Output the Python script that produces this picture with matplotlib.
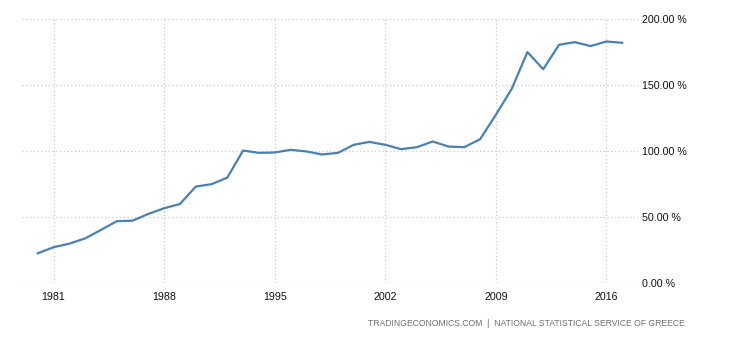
import matplotlib.pyplot as plt
from matplotlib.ticker import FuncFormatter

# Greece government debt to GDP (%)
years = list(range(1980, 2018))
debt = [22.7, 27.3, 30.0, 34.0, 40.4, 47.0, 47.4, 52.5, 56.8, 60.0,
        73.2, 75.0, 80.0, 100.5, 98.7, 99.0, 101.0, 99.8, 97.5, 98.7,
        104.8, 107.0, 104.8, 101.5, 103.0, 107.3, 103.5, 103.0, 109.0, 127.5,
        147.0, 175.0, 162.0, 180.5, 182.5, 179.5, 183.0, 182.0]

xticks = [1981, 1988, 1995, 2002, 2009, 2016]
yticks = [0, 50, 100, 150, 200]
source = "TRADINGECONOMICS.COM  |  NATIONAL STATISTICAL SERVICE OF GREECE"

plt.rcParams['font.family'] = ['Liberation Sans', 'DejaVu Sans']

fig = plt.figure(figsize=(7.3, 3.4), dpi=100)
ax = fig.add_axes([22 / 730, 1 - 283.3 / 340, 616 / 730, 264.3 / 340])

ax.plot(years, debt, color="#4682b4", linewidth=1.6, solid_joinstyle="round")

ax.set_xlim(1979, 2018)
ax.set_ylim(0, 200)
ax.set_xticks(xticks)
ax.set_yticks(yticks)
ax.yaxis.tick_right()
ax.yaxis.set_major_formatter(FuncFormatter(lambda v, p: f"{v:.2f} %"))
ax.tick_params(axis="both", length=0, labelsize=7.7, colors="#111111")
ax.tick_params(axis="x", pad=6)
ax.tick_params(axis="y", pad=3)

ax.grid(True, color="#c8c8c8", linestyle=(0, (1, 2)), linewidth=0.9)
for s in ax.spines.values():
    s.set_visible(False)

fig.text(685 / 730, 1 - 323 / 340, source, ha="right", va="center",
         fontsize=6.2, color="#707070")

fig.savefig("out.png", dpi=100)
